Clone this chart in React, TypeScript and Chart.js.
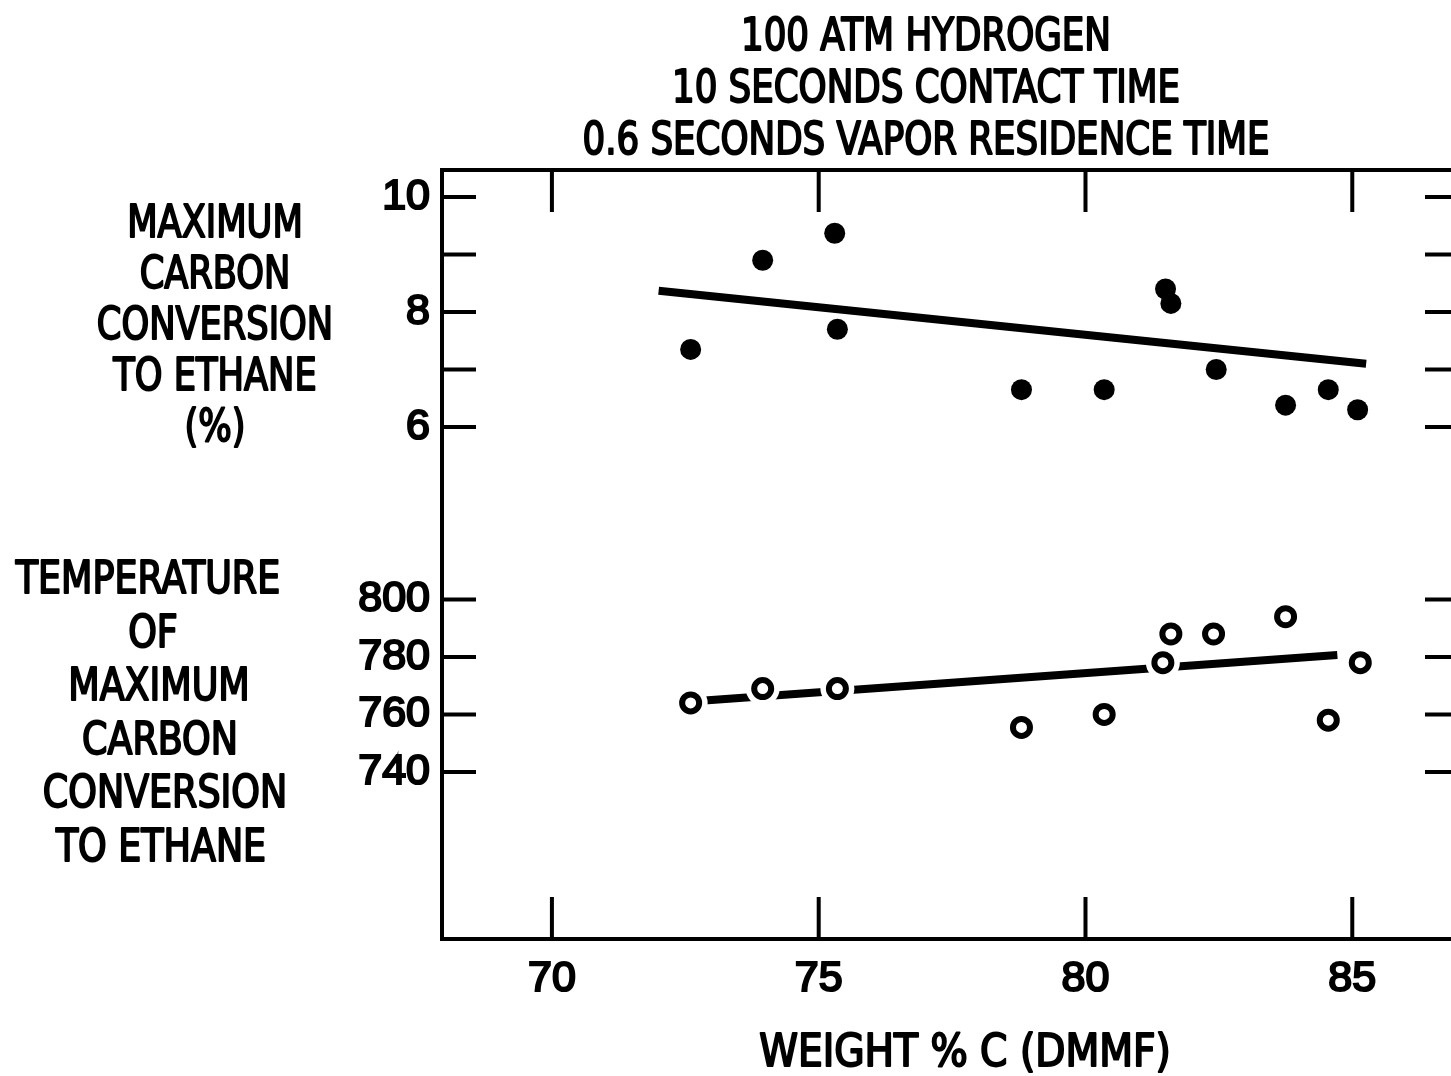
import { useEffect, useRef } from 'react';
import { Chart, registerables } from 'chart.js';

Chart.register(...registerables);

// ---- data ----
const carbonPct = [72.6, 73.95, 75.3, 75.35, 78.8, 80.35, 81.5, 81.6, 82.45, 83.75, 84.55, 85.1];
const conversion = [7.35, 8.9, 9.37, 7.7, 6.65, 6.65, 8.4, 8.15, 7.0, 6.38, 6.65, 6.3];

const tempCarbonPct = [72.6, 73.95, 75.35, 78.8, 80.35, 81.45, 81.6, 82.4, 83.75, 84.55, 85.15];
const temperature = [764, 769, 769, 755.5, 760, 778, 788, 788, 794, 758, 778];

const conversionFitX = [72.0, 85.26];
const conversionFitY = [8.37, 7.1];
const temperatureFitX = [72.6, 84.72];
const temperatureFitY = [764.5, 780.7];

const xTicks = [70, 75, 80, 85];
const conversionTicks = [6, 7, 8, 9, 10];
const conversionLabeled = [6, 8, 10];
const temperatureTicks = [740, 760, 780, 800];

const titleLines = ['100 ATM HYDROGEN', '10 SECONDS CONTACT TIME', '0.6 SECONDS VAPOR RESIDENCE TIME'];
const conversionLabelLines = ['MAXIMUM', 'CARBON', 'CONVERSION', 'TO ETHANE', '(%)'];
const temperatureLabelLines = ['TEMPERATURE', 'OF', 'MAXIMUM', 'CARBON', 'CONVERSION', 'TO ETHANE'];
const xTitle = 'WEIGHT % C (DMMF)';

// axis ranges (the two left-hand scales share one frame)
const X_MIN = 67.94;
const X_MAX = 87.0;
const C_MIN = -2.904;
const C_MAX = 10.47;
const T_MIN = 681.9;
const T_MAX = 949.4;
const tempToConv = (t: number) => C_MIN + ((t - T_MIN) * (C_MAX - C_MIN)) / (T_MAX - T_MIN);

const NARROW = "'DejaVu Sans Condensed', 'DejaVu Sans', sans-serif";
const DIGITS = "'Liberation Sans', Arial, sans-serif";

const zip = (xs: number[], ys: number[]) => xs.map((x, i) => ({ x, y: ys[i] }));

function drawLabel(ctx: CanvasRenderingContext2D, text: string, cx: number, baseline: number, sx: number) {
  ctx.save();
  ctx.translate(cx, baseline);
  ctx.scale(sx, 1);
  ctx.fillText(text, 0, 0);
  ctx.strokeText(text, 0, 0);
  ctx.restore();
}

const block2Centers = [148, 153, 159, 160, 165, 161];

const framePlugin = {
  id: 'frameAndText',
  afterDraw(chart: any) {
    const { ctx, chartArea } = chart;
    const { left, right, top, bottom } = chartArea;
    const xs = chart.scales.x;
    const ys = chart.scales.y;
    const yt = chart.scales.yT;
    ctx.save();
    ctx.strokeStyle = '#000';
    ctx.lineWidth = 4;
    ctx.lineCap = 'butt';
    // top & right frame
    ctx.beginPath();
    ctx.moveTo(left - 2, top);
    ctx.lineTo(right, top);
    ctx.moveTo(right, top);
    ctx.lineTo(right, bottom);
    ctx.stroke();
    // inward ticks
    const xLen = 42;
    const yLen = 34;
    ctx.beginPath();
    xTicks.forEach((v) => {
      const px = xs.getPixelForValue(v);
      ctx.moveTo(px, bottom);
      ctx.lineTo(px, bottom - xLen);
      ctx.moveTo(px, top);
      ctx.lineTo(px, top + xLen);
    });
    const yPix = [
      ...conversionTicks.map((v) => ys.getPixelForValue(v)),
      ...temperatureTicks.map((v) => yt.getPixelForValue(v)),
    ];
    yPix.forEach((py) => {
      ctx.moveTo(left, py);
      ctx.lineTo(left + yLen, py);
      ctx.moveTo(right, py);
      ctx.lineTo(right - yLen, py);
    });
    ctx.stroke();

    // texts
    ctx.fillStyle = '#000';
    ctx.strokeStyle = '#000';
    ctx.lineWidth = 1.9;
    ctx.lineJoin = 'round';
    ctx.textAlign = 'center';
    ctx.textBaseline = 'alphabetic';
    ctx.font = `normal 44px ${NARROW}`;
    titleLines.forEach((t, i) => drawLabel(ctx, t, 926, 50 + i * 52, 0.9));
    conversionLabelLines.forEach((t, i) => drawLabel(ctx, t, 215, 237 + i * 51, 0.89));
    temperatureLabelLines.forEach((t, i) => drawLabel(ctx, t, block2Centers[i], 593 + i * 53.6, 0.92));
    drawLabel(ctx, xTitle, 965, 1066, 0.99);
    ctx.restore();
  },
};

export default function App() {
  const ref = useRef<HTMLCanvasElement | null>(null);

  useEffect(() => {
    if (!ref.current) return;
    const tickFont = { family: DIGITS, size: 43, weight: 'normal' as const };
    const nConv = conversionTicks.length;
    const chart = new Chart(ref.current, {
      type: 'scatter',
      data: {
        datasets: [
          {
            label: 'Temperature points',
            data: zip(tempCarbonPct, temperature),
            yAxisID: 'yT',
            pointRadius: 8.5,
            pointBorderWidth: 6,
            pointBackgroundColor: '#fff',
            pointBorderColor: '#000',
            order: 0,
          },
          {
            label: 'Temperature halo',
            data: zip(tempCarbonPct, temperature),
            yAxisID: 'yT',
            pointRadius: 17,
            pointBorderWidth: 0,
            pointBackgroundColor: '#fff',
            pointBorderColor: '#fff',
            order: 1,
          },
          {
            label: 'Temperature fit',
            data: zip(temperatureFitX, temperatureFitY),
            yAxisID: 'yT',
            showLine: true,
            borderColor: '#000',
            borderWidth: 8,
            pointRadius: 0,
            order: 2,
          },
          {
            label: 'Conversion points',
            data: zip(carbonPct, conversion),
            yAxisID: 'y',
            pointRadius: 10.5,
            pointBorderWidth: 0,
            pointBackgroundColor: '#000',
            pointBorderColor: '#000',
            order: 0,
          },
          {
            label: 'Conversion fit',
            data: zip(conversionFitX, conversionFitY),
            yAxisID: 'y',
            showLine: true,
            borderColor: '#000',
            borderWidth: 8,
            pointRadius: 0,
            order: 2,
          },
        ],
      },
      options: {
        animation: false,
        responsive: false,
        devicePixelRatio: 1,
        layout: { padding: { top: 170, right: 21, bottom: 0, left: 0 } },
        plugins: {
          legend: { display: false },
          title: { display: false },
          tooltip: { enabled: false },
        },
        scales: {
          x: {
            type: 'linear',
            position: 'bottom',
            min: X_MIN,
            max: X_MAX,
            afterBuildTicks: (s: any) => {
              s.ticks = xTicks.map((value) => ({ value }));
            },
            afterFit: (s: any) => {
              s.height = 137;
            },
            grid: { display: false, drawTicks: false },
            border: { display: true, width: 4, color: '#000' },
            ticks: {
              padding: 14,
              color: '#000',
              font: tickFont,
              textStrokeColor: '#000',
              textStrokeWidth: 2.2,
              callback: (v: any) => String(v),
            },
          },
          y: {
            type: 'linear',
            position: 'left',
            min: C_MIN,
            max: C_MAX,
            afterBuildTicks: (s: any) => {
              s.ticks = [
                ...conversionTicks.map((value) => ({ value })),
                ...temperatureTicks.map((t) => ({ value: tempToConv(t) })),
              ];
            },
            afterFit: (s: any) => {
              s.width = 442;
            },
            grid: { display: false, drawTicks: false },
            border: { display: true, width: 4, color: '#000' },
            ticks: {
              autoSkip: false,
              padding: 12,
              color: '#000',
              font: tickFont,
              textStrokeColor: '#000',
              textStrokeWidth: 2.2,
              callback: (v: any, i: number) => {
                if (i >= nConv) return String(temperatureTicks[i - nConv]);
                return conversionLabeled.includes(Number(v)) ? String(v) : '';
              },
            },
          },
          yT: {
            type: 'linear',
            position: 'left',
            display: false,
            min: T_MIN,
            max: T_MAX,
          },
        },
      },
      plugins: [framePlugin],
    });
    return () => chart.destroy();
  }, []);

  return (
    <div
      style={{
        position: 'fixed',
        left: 0,
        top: 0,
        width: 1451,
        height: 1076,
        overflow: 'hidden',
        background: '#fff',
      }}
    >
      <canvas ref={ref} width={1480} height={1076} style={{ display: 'block', width: 1480, height: 1076 }} />
    </div>
  );
}
